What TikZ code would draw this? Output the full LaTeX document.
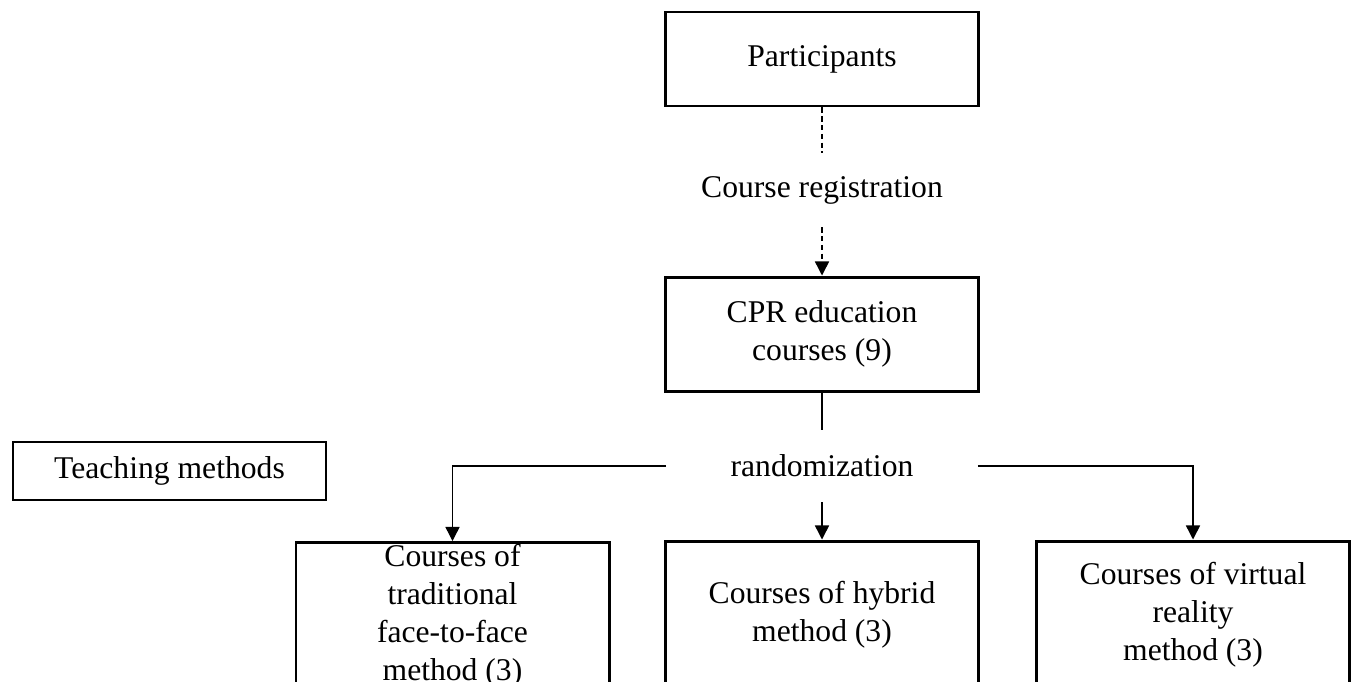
\documentclass[tikz,border=0pt]{standalone}
\usepackage{fontspec}
\setmainfont{Liberation Serif}
\usepackage{tikz}
\usetikzlibrary{arrows.meta,calc}

\tikzset{
  thickbox/.style={draw=black, line width=1.7pt, minimum width=6.26cm, align=center},
  thinbox/.style={draw=black, line width=1.1pt, minimum width=6.26cm, minimum height=1.16cm},
  steplabel/.style={minimum width=6.22cm, inner sep=0pt},
  link/.style={line width=0.8pt},
  arrowlink/.style={link, -{Triangle[width=8pt,length=8pt]}},
  dashlink/.style={line width=0.8pt, dash pattern=on 3pt off 2pt}
}

\begin{document}
\begin{tikzpicture}[font=\fontsize{18}{21.6}\selectfont]

% Page frame
\clip (0,0) rectangle (27.02,-13.62);
\fill[white] (0,0) rectangle (27.02,-13.62);

% Top of the flow
\node[thickbox, minimum height=1.88cm] (participants) at (16.44,-1.18) {Participants};
\node[steplabel, minimum height=1.48cm] (registration) at (16.44,-3.8) {Course registration};
\node[thickbox, minimum height=2.28cm] (cpr) at (16.44,-6.68) {CPR education\\courses (9)};
\node[steplabel, minimum height=1.44cm] (randomization) at (16.44,-9.32) {randomization};

% Side label
\node[thinbox] (teaching) at (3.39,-9.42) {Teaching methods};

% Method groups
\node[thickbox, inner ysep=1pt, anchor=north] (traditional) at (9.05,-10.82) {Courses of\\traditional\\face-to-face\\method (3)\\[6pt]};
\node[thickbox, minimum height=2.96cm] (hybrid) at (16.44,-12.3) {Courses of hybrid\\method (3)};
\node[thickbox, minimum height=2.96cm] (virtual) at (23.86,-12.3) {Courses of virtual\\reality\\method (3)};

% Connectors
\draw[dashlink] (participants.south) -- (registration.north);
\draw[dashlink, -{Triangle[width=8pt,length=8pt]}] (registration.south) -- (cpr.north);
\draw[link] (cpr.south) -- (randomization.north);
\draw[arrowlink] (randomization.south) -- (hybrid.north);
\draw[arrowlink] (randomization.west) -| (traditional.north);
\draw[arrowlink] (randomization.east) -| (virtual.north);

\end{tikzpicture}
\end{document}
